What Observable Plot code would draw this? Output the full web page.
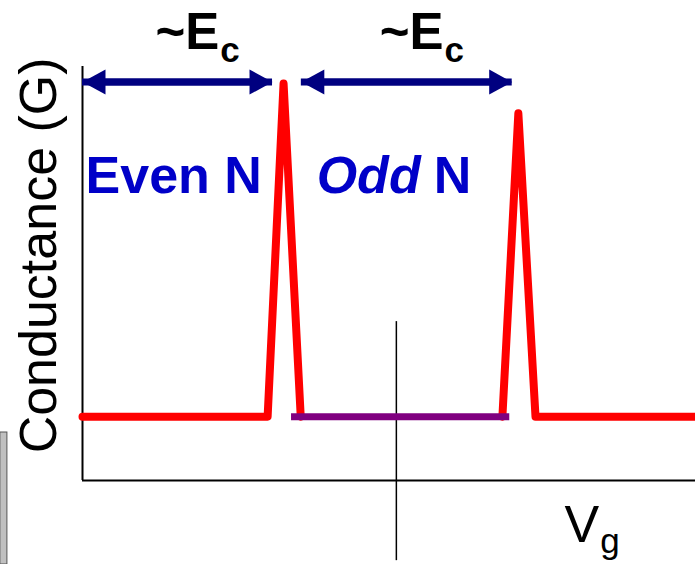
<!DOCTYPE html>
<html>
<head>
<meta charset="utf-8">
<script src="https://cdn.jsdelivr.net/npm/d3@7"></script>
<script src="https://cdn.jsdelivr.net/npm/@observablehq/plot@0.6"></script>
<style>
  html, body { margin: 0; padding: 0; background: #fff; }
  #chart svg { display: block; }
</style>
</head>
<body>
<div id="chart"></div>
<script>
// Coulomb-blockade conductance sketch: G vs gate voltage V_g (arbitrary units)

// Conductance trace, two segments (one per charge-degeneracy peak)
const traceVg = [0, 30.2, 32.8, 35.6, 68.5, 71.1, 73.9, 100];
const traceG = [13.3, 13.3, 82.7, 13.3, 13.3, 76.5, 13.3, 13.3];
const traceSegment = ["peak1", "peak1", "peak1", "peak1", "peak2", "peak2", "peak2", "peak2"];

// Odd-N blockade plateau
const plateauVg = [34.1, 69.7];
const plateauG = 13.3;

// Gate-voltage marker
const markerVg = 51.2;
const markerG = [-16.7, 33.1];

// Charging-energy spacing arrows
const spacingFrom = [0, 35.7];
const spacingTo = [31.0, 70.1];
const spacingG = 83.0;

// Labels
const ecVg = [22.3, 58.9];
const ecText = "~E";
const ecSub = "c";
const axisX = [0, 100];
const axisYTop = 86.25;

const trace = traceVg.map((v, i) => ({vg: v, g: traceG[i], seg: traceSegment[i]}));
const arrows = spacingFrom.map((a, i) => ({a, b: spacingTo[i]}));
const heads = arrows.flatMap(d => [{vg: d.a, dir: 180}, {vg: d.b, dir: 0}]);

// Filled arrowhead whose tip sits on the anchor point, pointing right
const arrowhead = {
  draw(ctx) {
    ctx.moveTo(0, 0);
    ctx.lineTo(-23, -12.5);
    ctx.lineTo(-23, 12.5);
    ctx.closePath();
  }
};

const font = "'Liberation Sans', Arial, Helvetica, sans-serif";
const navy = "#000080";
const blue = "#0000c8";

const chart = Plot.plot({
  width: 695,
  height: 564,
  marginLeft: 82,
  marginRight: 0,
  marginTop: 0,
  marginBottom: 84,
  x: {domain: [0, 100], axis: null},
  y: {domain: [0, 100], axis: null},
  style: {background: "#fff", overflow: "visible", fontFamily: font},
  marks: [
    // stray grey box at the lower-left edge
    Plot.rect([{}], {x1: -13.4, x2: -12.25, y1: -17.5, y2: 10, fill: "#c0c0c0", stroke: "#555", strokeWidth: 1}),
    // axes
    Plot.ruleX([axisX[0]], {y1: 0, y2: axisYTop, stroke: "#000", strokeWidth: 2}),
    Plot.ruleY([0], {x1: axisX[0], x2: axisX[1], stroke: "#000", strokeWidth: 2}),
    // marker line
    Plot.ruleX([markerVg], {y1: markerG[0], y2: markerG[1], stroke: "#000", strokeWidth: 1.5}),
    // conductance trace
    Plot.line(trace, {x: "vg", y: "g", z: "seg", stroke: "#ff0000", strokeWidth: 8, strokeLinejoin: "round"}),
    // blockade plateau
    Plot.ruleY([plateauG], {x1: plateauVg[0], x2: plateauVg[1], stroke: "#800080", strokeWidth: 7}),
    // spacing arrows
    Plot.ruleY(arrows, {x1: "a", x2: d => d.b - 1.5, y: () => spacingG, stroke: navy, strokeWidth: 7}),
    Plot.ruleY(arrows, {x1: d => d.a + 1.5, x2: "b", y: () => spacingG, stroke: navy, strokeWidth: 7}),
    Plot.dot(heads, {x: "vg", y: () => spacingG, symbol: arrowhead, rotate: "dir", fill: navy, stroke: null, r: 10}),
    // ~E_c labels
    Plot.text(ecVg, {x: d => d, y: 90, text: () => ecText, textAnchor: "end", lineAnchor: "bottom", fontSize: 51, fontWeight: "bold", fill: "#000"}),
    Plot.text(ecVg, {x: d => d, y: 87.1, dx: 1, text: () => ecSub, textAnchor: "start", lineAnchor: "bottom", fontSize: 35, fontWeight: "bold", fill: "#000"}),
    // parity labels
    Plot.text(["Even N"], {x: 0.5, y: 60, text: d => d, textAnchor: "start", lineAnchor: "bottom", fontSize: 52, fontWeight: "bold", fill: blue}),
    Plot.text(["Odd"], {x: 38.2, y: 60, text: d => d, textAnchor: "start", lineAnchor: "bottom", fontSize: 52, fontWeight: "bold", fontStyle: "italic", fill: blue}),
    Plot.text(["N"], {x: 57.3, y: 60, text: d => d, textAnchor: "start", lineAnchor: "bottom", fontSize: 52, fontWeight: "bold", fill: blue}),
    // axis titles
    Plot.text(["Conductance (G)"], {x: -4.25, y: 46.9, text: d => d, rotate: -90, textAnchor: "middle", lineAnchor: "bottom", fontSize: 52, fill: "#000"}),
    Plot.text(["V"], {x: 84.3, y: -12.9, text: d => d, textAnchor: "end", lineAnchor: "bottom", fontSize: 52, fill: "#000"}),
    Plot.text(["g"], {x: 84.3, y: -15, dx: 1, text: d => d, textAnchor: "start", lineAnchor: "bottom", fontSize: 35, fill: "#000"})
  ]
});

document.getElementById("chart").appendChild(chart);
</script>
</body>
</html>
